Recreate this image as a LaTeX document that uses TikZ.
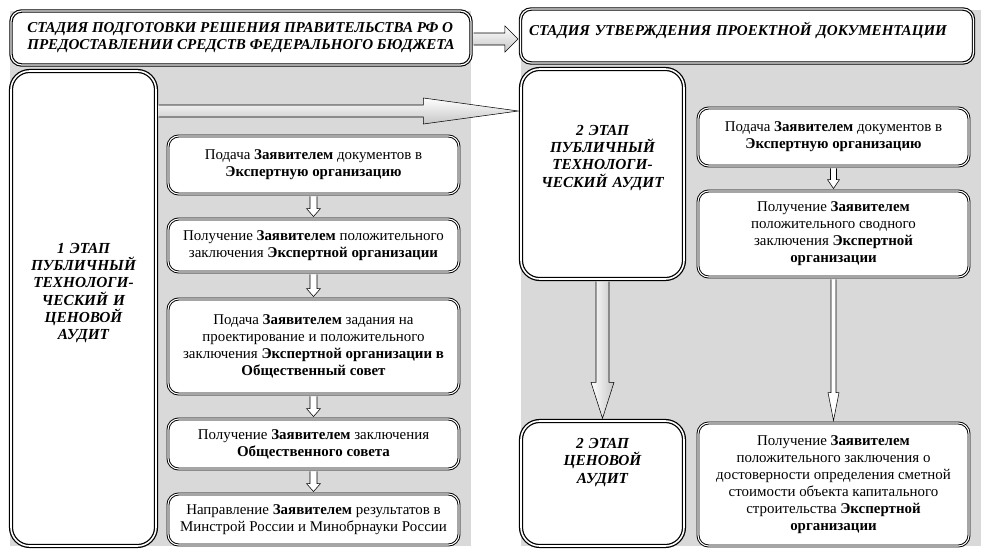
\documentclass[tikz,border=0pt]{standalone}
\usepackage{fontspec}
\setmainfont{Liberation Serif}
\usetikzlibrary{calc}

\definecolor{panelgray}{RGB}{217,217,217}
\newcommand{\px}{0.75pt}

\tikzset{
  panel/.style={draw,fill=panelgray,double=white,double distance=0.8pt,line width=0.7pt},
  header/.style={draw,fill=white,rounded corners=8pt,double=white,double distance=0.9pt,line width=0.85pt,
    font=\bfseries\itshape\fontsize{11.3}{12.75}\selectfont},
  stepbox/.style={draw,fill=white,rounded corners=8pt,double=white,double distance=0.8pt,line width=0.7pt,
    align=center,inner sep=0pt,font=\fontsize{11.2}{12.75}\selectfont},
  stagebox/.style={draw,fill=white,rounded corners=14pt,double=white,double distance=1.2pt,line width=0.95pt,
    align=center,font=\bfseries\itshape\fontsize{11.5}{13}\selectfont},
  harrow/.style={draw,line width=0.4pt,top color=white,bottom color=gray!45},
  varrow/.style={draw,line width=0.4pt,left color=white,right color=gray!45},
  thinarrow/.style={draw,line width=0.4pt,fill=white}
}

% block arrow downwards: style, from, to, shaft half, head half, head length
\newcommand{\downblock}[6]{%
  \path ($(#2.south)+(0,2)$) coordinate (top) (#2.south |- #3.north) ++(0,-2) coordinate (tip);
  \draw[#1] ($(top)+(-#4,0)$) -- ($(tip)+(-#4,-#6)$) -- ($(tip)+(-#5,-#6)$) -- (tip)
    -- ($(tip)+(#5,-#6)$) -- ($(tip)+(#4,-#6)$) -- ($(top)+(#4,0)$);}
% block arrow to the right: style, from, to, y, shaft half, head half, head length
\newcommand{\rightblock}[7]{%
  \path (#2.east |- 0,#4) ++(2,0) coordinate (tail) (#3.west |- 0,#4) ++(-2,0) coordinate (tip);
  \draw[#1] ($(tail)+(0,-#5)$) -- ($(tip)+(-#7,-#5)$) -- ($(tip)+(-#7,-#6)$) -- (tip)
    -- ($(tip)+(-#7,#6)$) -- ($(tip)+(-#7,#5)$) -- ($(tail)+(0,#5)$);}

\begin{document}
\begin{tikzpicture}[x=0.75pt,y=-0.75pt]
  \useasboundingbox (0,0) rectangle (989,557);

  % panels
  \draw[panel] (9,10) rectangle (472,547);
  \draw[panel] (520,9) rectangle (982,547);

  % stage headers
  \node[header,minimum width=460*\px,minimum height=54*\px,align=left] (h1) at (241,38)
    {СТАДИЯ ПОДГОТОВКИ РЕШЕНИЯ ПРАВИТЕЛЬСТВА РФ О\\ПРЕДОСТАВЛЕНИИ СРЕДСТВ ФЕДЕРАЛЬНОГО БЮДЖЕТА};
  \node[header,minimum width=453*\px,minimum height=54*\px,text width=436*\px,align=left,
    text depth=10pt] (h2) at (747,36)
    {СТАДИЯ УТВЕРЖДЕНИЯ ПРОЕКТНОЙ ДОКУМЕНТАЦИИ};

  % audit stages
  \node[stagebox,minimum width=145*\px,minimum height=475*\px,text width=130*\px,text depth=90.5pt]
    (s1) at (83.5,308.5)
    {1 ЭТАП\\ПУБЛИЧНЫЙ\\ТЕХНОЛОГИ-\\ЧЕСКИЙ И\\ЦЕНОВОЙ\\АУДИТ};
  \node[stagebox,minimum width=163*\px,minimum height=210*\px,text width=145*\px,text depth=66pt]
    (s2) at (602.5,174)
    {2 ЭТАП\\ПУБЛИЧНЫЙ\\ТЕХНОЛОГИ-\\ЧЕСКИЙ АУДИТ};
  \node[stagebox,minimum width=163*\px,minimum height=125*\px,text width=145*\px,text depth=60pt]
    (s3) at (602.5,483.5)
    {2 ЭТАП\\ЦЕНОВОЙ\\АУДИТ};

  % steps of stage 1
  \node[stepbox,minimum width=291*\px,minimum height=58*\px] (l1) at (313.5,165)
    {Подача \textbf{Заявителем} документов в\\\textbf{Экспертную организацию}};
  \node[stepbox,minimum width=291*\px,minimum height=53*\px] (l2) at (313.5,245.5)
    {Получение \textbf{Заявителем} положительного\\заключения \textbf{Экспертной организации}};
  \node[stepbox,minimum width=291*\px,minimum height=95*\px] (l3) at (313.5,346.5)
    {Подача \textbf{Заявителем} задания на\\проектирование и положительного\\заключения \textbf{Экспертной организации в}\\\textbf{Общественный совет}};
  \node[stepbox,minimum width=291*\px,minimum height=50*\px] (l4) at (313.5,444)
    {Получение \textbf{Заявителем} заключения\\\textbf{Общественного совета}};
  \node[stepbox,minimum width=291*\px,minimum height=51*\px] (l5) at (313.5,519.5)
    {Направление \textbf{Заявителем} результатов в\\Минстрой России и Минобрнауки России};

  % steps of stage 2
  \node[stepbox,minimum width=271*\px,minimum height=58*\px] (r1) at (833.5,137)
    {Подача \textbf{Заявителем} документов в\\\textbf{Экспертную организацию}};
  \node[stepbox,minimum width=271*\px,minimum height=86*\px] (r2) at (833.5,234)
    {Получение \textbf{Заявителем}\\положительного сводного\\заключения \textbf{Экспертной}\\\textbf{организации}};
  \node[stepbox,minimum width=271*\px,minimum height=123*\px] (r3) at (833.5,484.5)
    {Получение \textbf{Заявителем}\\положительного заключения о\\достоверности определения сметной\\стоимости объекта капитального\\строительства \textbf{Экспертной}\\\textbf{организации}};

  % arrows
  \foreach \a/\b in {l1/l2,l2/l3,l3/l4,l4/l5}
    \downblock{thinarrow}{\a}{\b}{3.5}{7}{8};
  \downblock{thinarrow}{r1}{r2}{3}{6}{9};
  \downblock{thinarrow}{r2}{r3}{2.5}{5.5}{28};
  \downblock{varrow}{s2}{s3}{6.5}{11.5}{36};
  \rightblock{harrow}{h1}{h2}{39}{6}{13}{13};
  \rightblock{harrow}{s1}{s2}{111}{6}{13}{95};
\end{tikzpicture}
\end{document}
